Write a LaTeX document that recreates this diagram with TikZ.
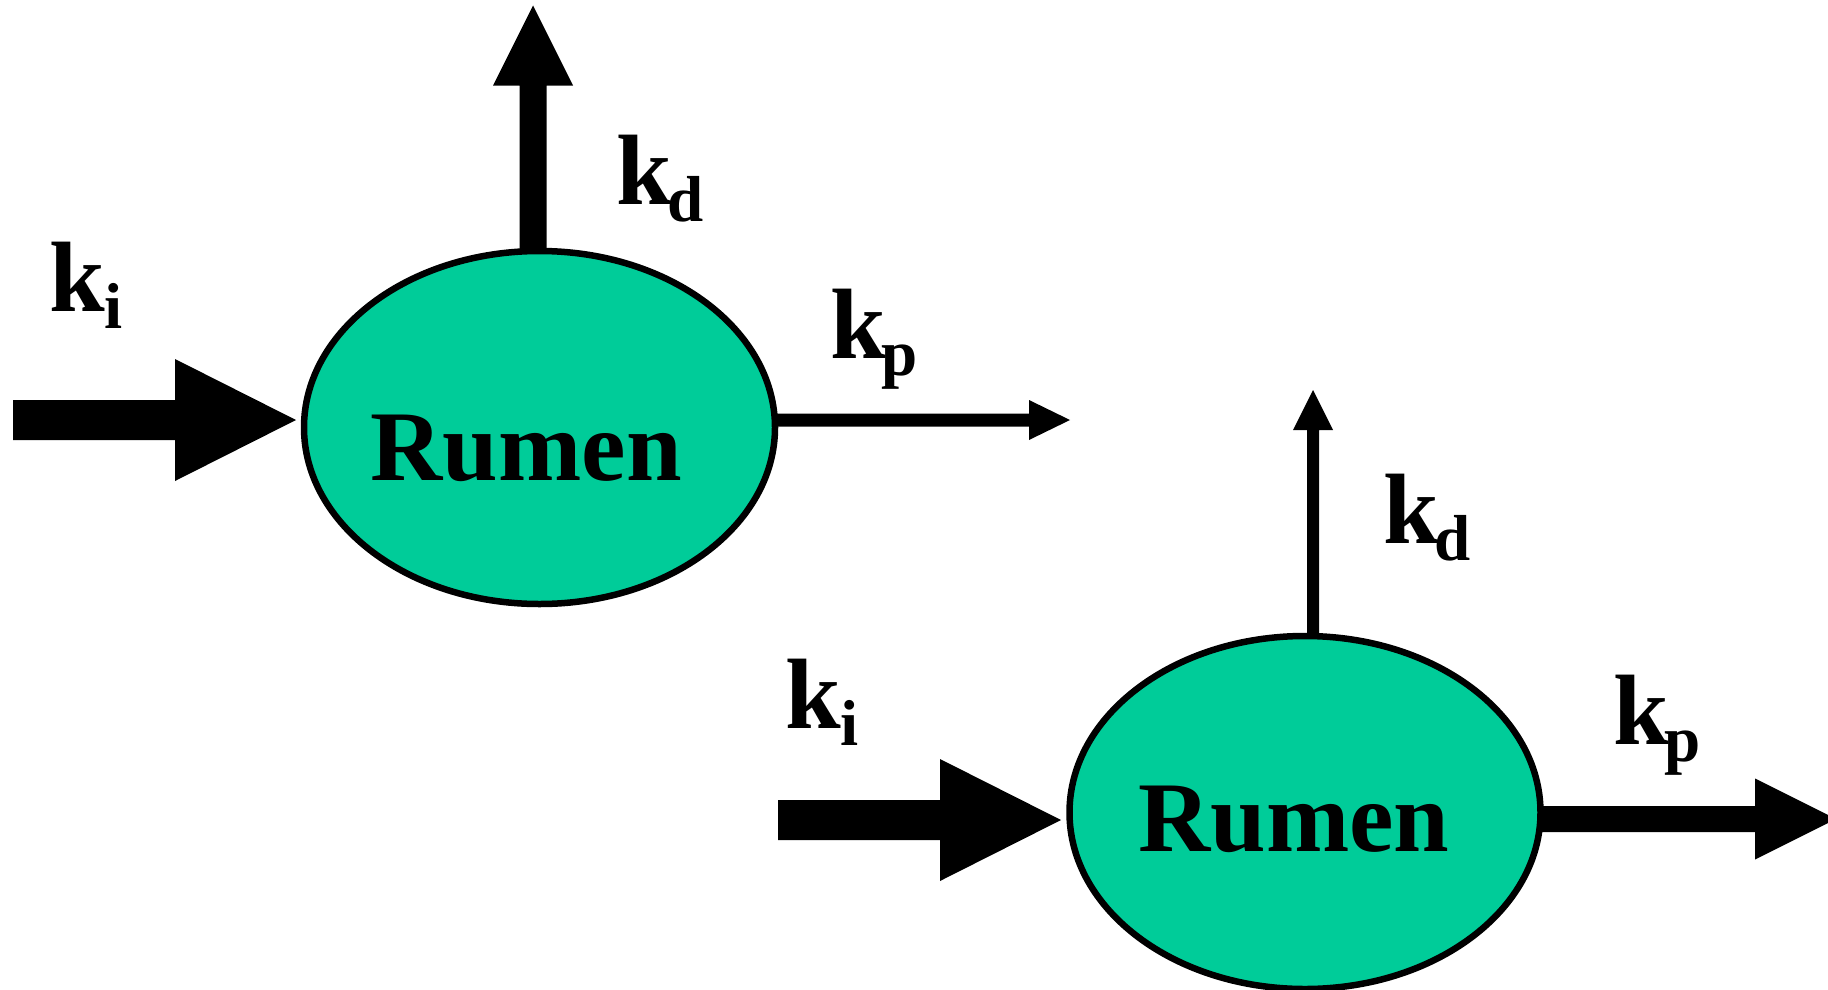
\documentclass[tikz,border=0pt]{standalone}
\usepackage{fontspec}
\setmainfont{Liberation Serif}
\usetikzlibrary{shapes.geometric}
\definecolor{rumengreen}{RGB}{0,204,153}
\newcommand\harrowR[5]{\fill (#2) -- ++(-#5,-#4) -- ++(0,#4-#3) coordinate (q1) -- (#1 |- q1) -- ++(0,2*#3) coordinate (q2) -- (q2 -| q1) -- ++(0,#4-#3) -- cycle;}
\newcommand\varrowU[5]{\fill (#2) -- ++(-#4,#5) -- ++(#4-#3,0) coordinate (q1) -- (q1 |- #1) -- ++(2*#3,0) coordinate (q2) -- (q2 |- q1) -- ++(#4-#3,0) -- cycle;}
\newcommand\ksub[2][-4pt]{k\kern#1\raisebox{-17pt}{\fontsize{65}{65}\selectfont #2}}
\begin{document}
\begin{tikzpicture}[x=1pt,y=-1pt,
  rumen/.style={ellipse, draw=black, line width=6.5pt, fill=rumengreen, inner sep=0pt, minimum width=471pt, minimum height=353pt},
  lbl/.style={anchor=base west, inner sep=0pt, font=\bfseries\fontsize{100}{110}\selectfont}]
\useasboundingbox (0,0) rectangle (1828,990);
\clip (0,0) rectangle (1828,990);
% coordinates of arrow ends
\coordinate (ki1a) at (13,420);
\coordinate (ki1b) at (296,420);
\coordinate (kd1a) at (533,265);
\coordinate (kd1b) at (533,5.5);
\coordinate (kp1a) at (770,420);
\coordinate (kp1b) at (1070,420);
\coordinate (ki2a) at (778,820);
\coordinate (ki2b) at (1061,820);
\coordinate (kd2a) at (1313,650);
\coordinate (kd2b) at (1313,390);
\coordinate (kp2a) at (1535,819);
\coordinate (kp2b) at (1836,819);
% arrows
\harrowR{ki1a}{ki1b}{20}{61}{121}
\varrowU{kd1a}{kd1b}{13.5}{40}{80}
\harrowR{kp1a}{kp1b}{6.5}{20}{41}
\harrowR{ki2a}{ki2b}{20}{61}{121}
\varrowU{kd2a}{kd2b}{6}{20}{40}
\harrowR{kp2a}{kp2b}{13}{40.5}{81}
% ellipses
\node[rumen] (e1) at (539.5,427.5) {};
\node[rumen] (e2) at (1305,812.5) {};
% texts
\node[lbl] (r1) at (370.5,480) {Rumen};
\node[lbl] (r2) at (1138,851) {Rumen};
\node[lbl] (ki1) at (49,311) {\ksub[0pt]{i}};
\node[lbl] (kd1) at (616,204) {\ksub{d}};
\node[lbl] (kp1) at (830,358) {\ksub{p}};
\node[lbl] (kd2) at (1383,543) {\ksub{d}};
\node[lbl] (ki2) at (785,728) {\ksub[0pt]{i}};
\node[lbl] (kp2) at (1613,744) {\ksub{p}};
\end{tikzpicture}
\end{document}
